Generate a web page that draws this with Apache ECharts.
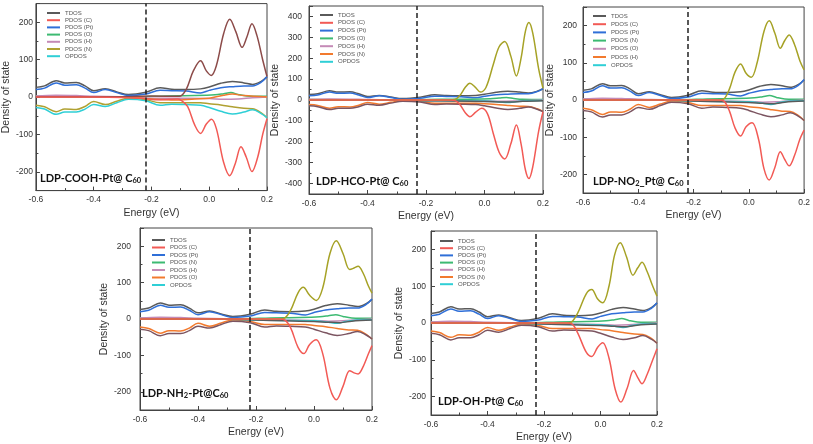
<!DOCTYPE html>
<html><head><meta charset="utf-8">
<script src="https://cdn.jsdelivr.net/npm/echarts@6/dist/echarts.min.js"></script>
<style>html,body{margin:0;padding:0;background:#fff}#c{width:813px;height:444px}</style>
</head><body><div id="c"></div>
<script>
// ---------- data (energy in eV, density of state) ----------
const xTicks = [-0.6, -0.4, -0.2, 0.0, 0.2];
const fermiLevel = [-0.22, -0.227, -0.22, -0.221, -0.229];

// shared background curves (spin up / spin down)
const tdosUp = [[-0.6,26],[-0.57,30],[-0.53,44],[-0.5,38],[-0.46,39],[-0.43,30],[-0.4,17],[-0.36,22],[-0.32,14],[-0.28,7],[-0.22,13],[-0.17,25],[-0.13,21],[-0.08,20],[-0.03,22],[0,27],[0.04,37],[0.08,42],[0.12,38],[0.15,34],[0.18,42],[0.2,54]];
const ptUp = [[-0.6,20],[-0.57,24],[-0.53,38],[-0.5,32],[-0.46,33],[-0.43,24],[-0.4,12],[-0.36,20],[-0.32,12],[-0.28,4],[-0.22,8],[-0.17,18],[-0.13,17],[-0.08,16],[-0.03,11],[0,18],[0.04,25],[0.08,28],[0.12,30],[0.15,30],[0.18,40],[0.2,55]];
const tdosDn = [[-0.6,-28],[-0.57,-32],[-0.53,-46],[-0.5,-40],[-0.46,-40],[-0.43,-32],[-0.4,-20],[-0.36,-25],[-0.32,-15],[-0.28,-6],[-0.22,-10],[-0.17,-22],[-0.13,-19],[-0.08,-20],[-0.03,-22],[0,-28],[0.04,-38],[0.08,-45],[0.12,-40],[0.15,-34],[0.18,-44],[0.2,-55]];
const orangeDn = [[-0.6,-22],[-0.57,-26],[-0.53,-39],[-0.5,-32],[-0.46,-33],[-0.43,-25],[-0.4,-12],[-0.36,-20],[-0.32,-11],[-0.28,-3],[-0.22,-7],[-0.17,-15],[-0.13,-15],[-0.08,-15],[-0.03,-15],[0,-18],[0.04,-21],[0.08,-26],[0.12,-30],[0.15,-31],[0.18,-42],[0.2,-55]];
const greenUp = [[-0.6,2],[-0.4,1],[-0.25,1],[-0.15,3],[-0.05,4],[0.02,6],[0.05,9],[0.075,12],[0.1,7],[0.13,3],[0.2,2]];
const cyanDn = [[-0.6,-1],[-0.3,-1],[-0.2,-3],[-0.1,-4],[0,-5],[0.05,-9],[0.08,-12],[0.11,-7],[0.15,-3],[0.2,-2]];
const mauveSmall = [[-0.6,3],[-0.53,5],[-0.46,4],[-0.4,2],[-0.3,1],[-0.2,-3],[-0.1,-3],[0,-4],[0.05,-6],[0.1,-5],[0.15,-2],[0.2,0]];
const orangeSmall = [[-0.6,1],[-0.3,1],[-0.2,-5],[-0.12,-8],[-0.05,-5],[0,-3],[0.05,5],[0.08,8],[0.12,4],[0.2,0]];
const grayDnSmall = [[-0.6,0],[-0.3,0],[-0.2,-3],[-0.1,-5],[0,-7],[0.05,-9],[0.09,-10],[0.13,-6],[0.2,-3]];

// panel-specific large peaks
const bigUp1 = [[-0.6,1],[-0.3,1],[-0.2,3],[-0.104,2],[-0.08,20],[-0.055,70],[-0.03,97],[-0.01,70],[0.007,58],[0.025,85],[0.05,170],[0.071,208],[0.092,175],[0.114,133],[0.13,160],[0.148,196],[0.165,165],[0.185,100],[0.2,55]];
const bigDn1 = [[-0.6,0],[-0.4,0],[-0.3,-1],[-0.22,-4],[-0.18,-7],[-0.14,-6],[-0.11,-5],[-0.098,-8],[-0.075,-25],[-0.05,-75],[-0.03,-97],[-0.01,-72],[0.008,-59],[0.025,-85],[0.05,-175],[0.071,-210],[0.09,-178],[0.11,-133],[0.128,-160],[0.148,-199],[0.168,-160],[0.185,-100],[0.2,-58]];
const bigUp2 = [[-0.6,0],[-0.12,0],[-0.102,2],[-0.085,20],[-0.065,62],[-0.05,80],[-0.032,62],[-0.014,38],[0.005,60],[0.03,170],[0.05,255],[0.069,280],[0.09,210],[0.109,115],[0.125,200],[0.14,330],[0.152,371],[0.165,320],[0.185,150],[0.2,56]];
const bigDn2 = [[-0.6,0],[-0.12,0],[-0.1,-3],[-0.085,-20],[-0.065,-62],[-0.05,-80],[-0.03,-58],[-0.01,-40],[0.01,-65],[0.03,-160],[0.05,-250],[0.069,-283],[0.09,-210],[0.109,-120],[0.125,-210],[0.14,-335],[0.152,-376],[0.165,-320],[0.185,-150],[0.2,-56]];
const bigUp3 = [[-0.6,0],[-0.11,0],[-0.09,3],[-0.07,30],[-0.05,75],[-0.03,97],[-0.01,72],[0.009,61],[0.03,100],[0.055,185],[0.074,213],[0.094,180],[0.114,139],[0.13,160],[0.146,175],[0.165,150],[0.185,105],[0.2,81]];
const bigDn3 = [[-0.6,0],[-0.11,0],[-0.09,-3],[-0.07,-30],[-0.05,-75],[-0.03,-97],[-0.01,-72],[0.012,-61],[0.035,-105],[0.055,-185],[0.074,-215],[0.094,-182],[0.114,-139],[0.13,-160],[0.146,-177],[0.165,-150],[0.185,-105],[0.2,-81]];
const bigUp4 = [[-0.6,0],[-0.12,0],[-0.1,3],[-0.08,25],[-0.055,72],[-0.037,87],[-0.015,65],[0.008,51],[0.03,85],[0.055,180],[0.077,215],[0.1,180],[0.123,136],[0.138,140],[0.152,145],[0.17,125],[0.188,90],[0.2,71]];
const bigDn4 = [[-0.6,0],[-0.12,0],[-0.1,-3],[-0.08,-25],[-0.055,-78],[-0.035,-95],[-0.015,-70],[0.008,-57],[0.03,-95],[0.055,-190],[0.077,-222],[0.1,-185],[0.123,-142],[0.138,-148],[0.152,-151],[0.17,-130],[0.188,-95],[0.2,-73]];
const bigUp5 = [[-0.6,0],[-0.12,0],[-0.102,3],[-0.08,28],[-0.05,80],[-0.031,91],[-0.01,65],[0.008,55],[0.03,100],[0.05,185],[0.07,218],[0.092,180],[0.115,130],[0.132,150],[0.147,165],[0.165,140],[0.185,100],[0.2,73]];
const bigDn5 = [[-0.6,0],[-0.12,0],[-0.1,-3],[-0.08,-28],[-0.05,-80],[-0.031,-91],[-0.01,-66],[0.008,-54],[0.03,-95],[0.052,-180],[0.072,-215],[0.094,-178],[0.117,-129],[0.133,-150],[0.147,-165],[0.165,-140],[0.185,-100],[0.2,-70]];

const legendNames1 = ['TDOS','PDOS (C)','PDOS (Pt)','PDOS (O)','PDOS (H)','PDOS (N)','OPDOS'];
const legendNames2 = ['TDOS','PDOS (C)','PDOS (Pt)','PDOS (O)','PDOS (H)','PDOS (N)','OPDOS'];
const legendNames3 = ['TDOS','PDOS (C)','PDOS (Pt)','PDOS (N)','PDOS (O)','PDOS (H)','OPDOS'];
const legendNames4 = ['TDOS','PDOS (C)','PDOS (Pt)','PDOS (N)','PDOS (H)','PDOS (O)','OPDOS'];
const legendNames5 = ['TDOS','PDOS (C)','PDOS (Pt)','PDOS (O)','PDOS (H)','PDOS (N)','OPDOS'];

const titles = ['LDP-COOH-Pt@ C{s|60}','LDP-HCO-Pt@ C{s|60}','LDP-NO{s|2}_Pt@ C{s|60}','LDP-NH{s|2}-Pt@C{s|60}','LDP-OH-Pt@ C{s|60}'];

// ---------- styling / layout ----------
const C = {gray:'#5a5a5a', red:'#f25a55', blue:'#2f6fd8', green:'#3dba72', mauve:'#c48ab6', gold:'#d9a43a', orange:'#f27a2e', cyan:'#2fcfd6', olive:'#a6a226', brown:'#8c4b49', dbrown:'#7c5561', yolive:'#b0a132'};

const layout = [
  {grid:{left:34,top:3.6,width:233,height:187}, ymin:-250, ymax:250, split:5, lm:3, ng:21, leg:{left:47,top:9.5,gap:0.2}, tt:{left:40,top:171}},
  {grid:{left:309,top:6,width:234,height:188}, ymin:-450, ymax:450, split:9, lm:7, ng:23, leg:{left:320,top:11.5,gap:0.8}, tt:{left:316,top:174}},
  {grid:{left:583,top:7,width:223,height:186}, ymin:-250, ymax:250, split:5, lm:6, ng:24, leg:{left:593,top:12.5,gap:1.2}, tt:{left:593,top:174}},
  {grid:{left:140,top:228,width:232,height:182}, ymin:-250, ymax:250, split:5, lm:9, ng:24, leg:{left:152,top:236.5,gap:0.5}, tt:{left:142,top:386}},
  {grid:{left:431,top:231,width:226,height:184}, ymin:-250, ymax:250, split:5, lm:5, ng:23, leg:{left:440,top:237.5,gap:0.2}, tt:{left:438,top:394}}
];

const legendSets = [legendNames1, legendNames2, legendNames3, legendNames4, legendNames5];

// which curve sits under each legend entry, and unlabeled extras
const panelCurves = [
  {labeled:[tdosUp, bigDn1, ptUp, greenUp, mauveSmall, orangeDn, tdosDn], colors:[C.gray,C.red,C.blue,C.green,C.mauve,C.yolive,C.cyan],
   extra:[{d:orangeSmall,c:C.orange},{d:bigUp1,c:C.brown}]},
  {labeled:[tdosUp, bigDn2, ptUp, greenUp, mauveSmall, orangeDn, cyanDn], colors:[C.gray,C.red,C.blue,C.green,C.mauve,C.orange,C.cyan],
   extra:[{d:grayDnSmall,c:C.gray},{d:tdosDn,c:C.dbrown},{d:bigUp2,c:C.olive}]},
  {labeled:[tdosUp, bigDn3, ptUp, greenUp, mauveSmall, orangeDn, cyanDn], colors:[C.gray,C.red,C.blue,C.green,C.mauve,C.orange,C.cyan],
   extra:[{d:grayDnSmall,c:C.gray},{d:tdosDn,c:C.dbrown},{d:bigUp3,c:C.olive}]},
  {labeled:[tdosUp, bigDn4, ptUp, greenUp, mauveSmall, orangeDn, cyanDn], colors:[C.gray,C.red,C.blue,C.green,C.mauve,C.orange,C.cyan],
   extra:[{d:grayDnSmall,c:C.gray},{d:tdosDn,c:C.dbrown},{d:bigUp4,c:C.olive}]},
  {labeled:[tdosUp, bigDn5, ptUp, greenUp, mauveSmall, orangeDn, cyanDn], colors:[C.gray,C.red,C.blue,C.green,C.mauve,C.orange,C.cyan],
   extra:[{d:grayDnSmall,c:C.gray},{d:tdosDn,c:C.dbrown},{d:bigUp5,c:C.olive}]}
];

const FONT = "'Liberation Sans', Arial, sans-serif";
const grids=[], xAxes=[], yAxes=[], legends=[], series=[], titleArr=[];

layout.forEach((L, i) => {
  grids.push(Object.assign({show:true, borderColor:'#444', borderWidth:1, backgroundColor:'transparent'}, L.grid));
  xAxes.push({type:'value', gridIndex:i, min:xTicks[0], max:xTicks[xTicks.length-1], interval:0.2,
    name:'Energy (eV)', nameLocation:'middle', nameGap:17,
    nameTextStyle:{fontSize:10.5, color:'#333', fontFamily:FONT},
    axisLine:{show:true, onZero:false, lineStyle:{color:'#444', width:1}},
    axisTick:{show:true, inside:true, length:4, lineStyle:{color:'#444'}},
    minorTick:{show:true, splitNumber:2, length:2.5, lineStyle:{color:'#444'}},
    splitLine:{show:false}, minorSplitLine:{show:false},
    axisLabel:{fontSize:8.5, color:'#333', margin:5, fontFamily:FONT,
      formatter:v => (Math.abs(v) < 1e-9 ? 0 : v).toFixed(1)}
  });
  yAxes.push({type:'value', gridIndex:i, min:L.ymin, max:L.ymax, splitNumber:L.split,
    name:'Density of state', nameLocation:'middle', nameGap:L.ng,
    nameTextStyle:{fontSize:10.5, color:'#333', fontFamily:FONT},
    axisLine:{show:true, onZero:false, lineStyle:{color:'#444', width:1}},
    axisTick:{show:true, inside:true, length:4, lineStyle:{color:'#444'}},
    minorTick:{show:true, splitNumber:2, length:2.5, lineStyle:{color:'#444'}},
    splitLine:{show:false}, minorSplitLine:{show:false},
    axisLabel:{fontSize:8.5, color:'#333', margin:L.lm, fontFamily:FONT, showMinLabel:false, showMaxLabel:false}
  });
  const names = legendSets[i].map(n => n + '#' + i);
  legends.push({orient:'vertical', left:L.leg.left, top:L.leg.top, padding:0, itemGap:L.leg.gap,
    icon:'rect', itemWidth:13, itemHeight:2, selectedMode:false, data:names,
    formatter: n => n.split('#')[0],
    textStyle:{fontSize:6, lineHeight:7, color:'#555', fontFamily:FONT}});
  titleArr.push({text:titles[i], left:L.tt.left, top:L.tt.top, padding:0,
    textStyle:{fontSize:11, fontWeight:'bold', color:'#111', fontFamily:'Lato, sans-serif', lineHeight:14,
      rich:{s:{fontSize:7.5, fontWeight:'bold', color:'#111', fontFamily:'Lato, sans-serif', verticalAlign:'bottom', lineHeight:9, padding:[5,0,0,0]}}}});

  const pc = panelCurves[i];
  const mk = (name, data, color, z) => ({type:'line', name, xAxisIndex:i, yAxisIndex:i, data,
    smooth:0.35, showSymbol:false, symbol:'none', color, z,
    lineStyle:{color, width:1.5}, emphasis:{disabled:true}, silent:true});
  pc.labeled.forEach((d, k) => { if (k !== 1) series.push(mk(names[k], d, pc.colors[k], 2)); });
  pc.extra.forEach((e, k) => series.push(mk('extra' + i + '_' + k, e.d, e.c, 3)));
  const red = mk(names[1], pc.labeled[1], pc.colors[1], 4);
  red.markLine = {silent:true, symbol:'none', label:{show:false}, animation:false,
    lineStyle:{type:[5,3], color:'#222', width:1.5}, data:[{xAxis:fermiLevel[i]}]};
  series.push(red);
});

const chart = echarts.init(document.getElementById('c'), null, {renderer:'canvas'});
chart.setOption({animation:false, backgroundColor:'#fff', title:titleArr, grid:grids, xAxis:xAxes, yAxis:yAxes, legend:legends, series});
</script></body></html>
